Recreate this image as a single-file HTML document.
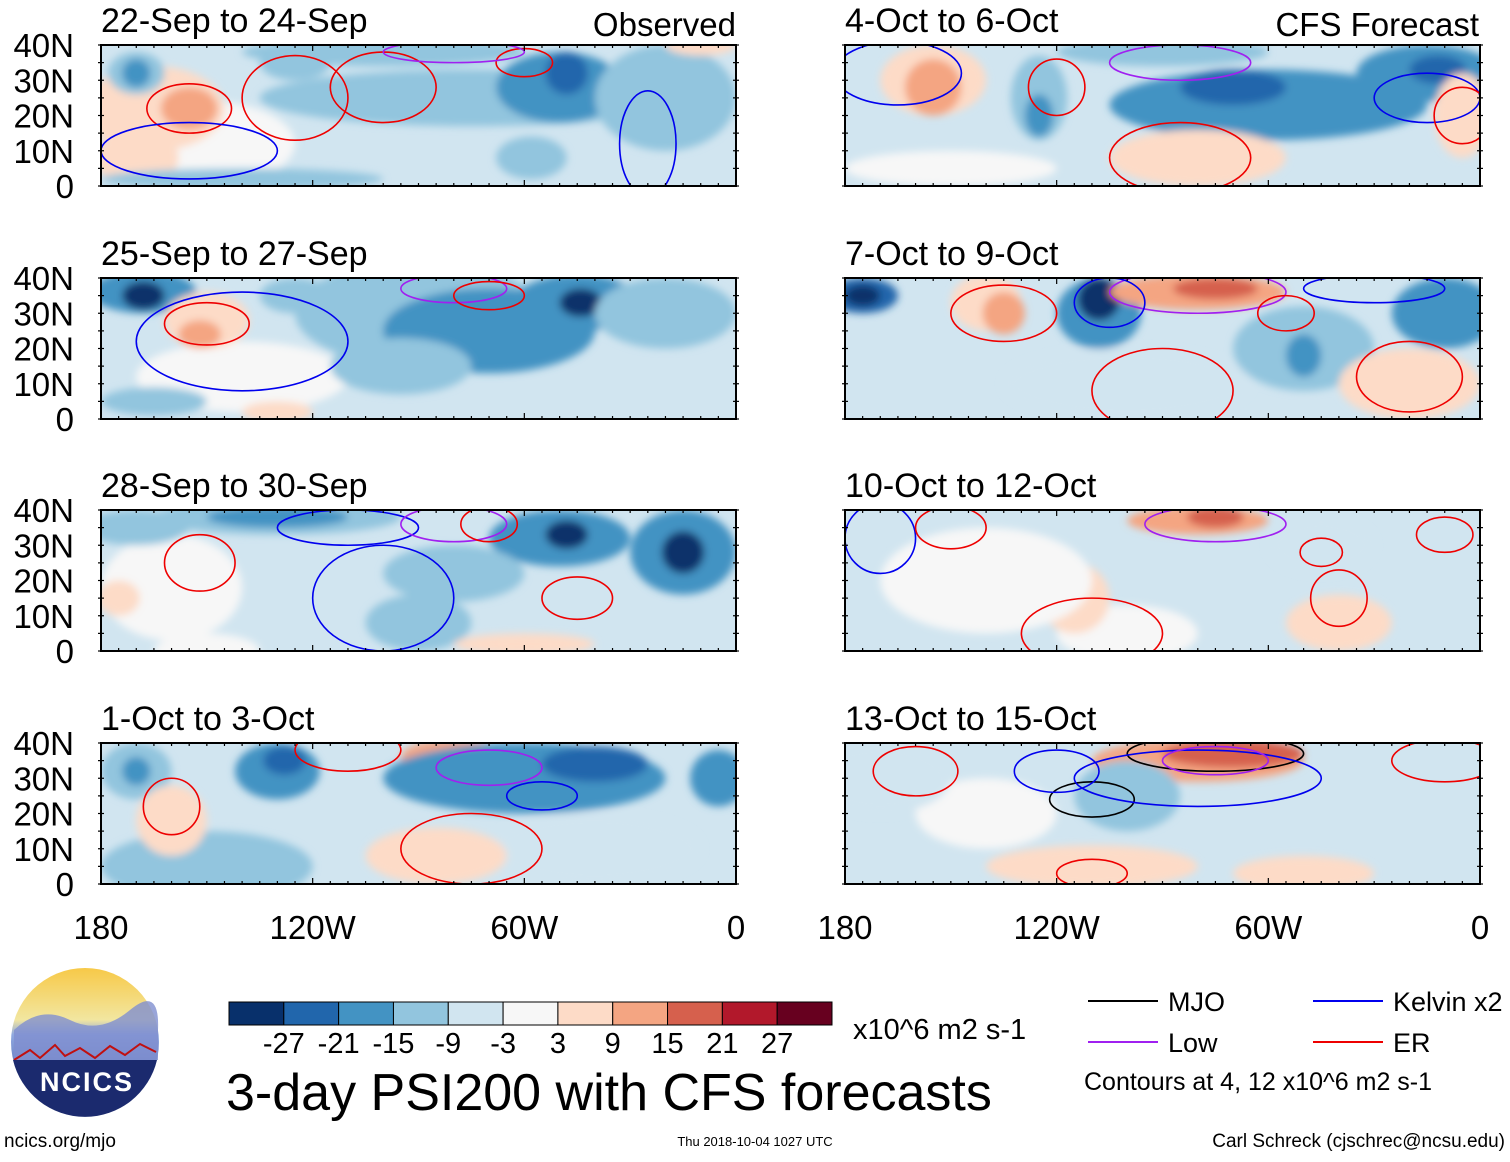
<!DOCTYPE html>
<html><head><meta charset="utf-8">
<style>
body{margin:0;background:#fff;width:1510px;height:1157px;overflow:hidden;font-family:"Liberation Sans",sans-serif}
svg text{font-family:"Liberation Sans",sans-serif}
</style></head>
<body>
<svg id="c" width="1510" height="1157" xmlns="http://www.w3.org/2000/svg">
<defs>
<filter id="bl" x="-20%" y="-20%" width="140%" height="140%"><feGaussianBlur stdDeviation="4"/></filter>
<linearGradient id="sky" x1="0" y1="0" x2="0" y2="1"><stop offset="0" stop-color="#f7c948"/><stop offset="0.35" stop-color="#f2e6a0"/><stop offset="0.45" stop-color="#8fa8e0"/><stop offset="1" stop-color="#2a3a8f"/></linearGradient>
</defs>
</svg>
<script>
const levelColors=["#08306b","#2166ac","#4393c3","#92c5de","#d1e5f0","#f7f7f7","#fddbc7","#f4a582","#d6604d","#b2182b","#67001f"];
const cbLabels=["-27","-21","-15","-9","-3","3","9","15","21","27"];
const panelTitles=["22-Sep to 24-Sep","25-Sep to 27-Sep","28-Sep to 30-Sep","1-Oct to 3-Oct","4-Oct to 6-Oct","7-Oct to 9-Oct","10-Oct to 12-Oct","13-Oct to 15-Oct"];
const latTicks=[40,30,20,10,0];
const latLabels=["40N","30N","20N","10N","0"];
const lonTicks=[180,120,60,0];
const lonLabels=["180","120W","60W","0"];
// blobs: [lonW, lat, rxDeg, ryDeg, level(-5..5)]
const blobs0=[[150,12,25,12,0],[165,22,20,12,1],[155,22,8,6,2],[170,8,12,8,1],[170,32,8,6,-2],[170,32,4,4,-3],[125,35,10,5,-2],[75,25,60,8,-2],[50,28,18,10,-3],[48,32,6,6,-4],[100,38,40,4,-2],[20,25,20,15,-2],[58,8,10,6,-2],[140,2,40,3,-2],[10,40,10,3,1]];
const blobs1=[[140,12,30,10,0],[168,36,15,6,-3],[168,35,6,4,-5],[150,28,12,8,1],[152,24,6,4,2],[90,30,35,15,-2],[70,25,30,12,-3],[45,33,18,8,-3],[44,33,6,4,-5],[20,30,20,10,-2],[95,15,20,8,-2],[125,35,10,5,-2],[165,5,15,4,-2],[130,2,10,3,1]];
const blobs2=[[160,18,20,15,0],[150,0,15,5,0],[130,38,35,5,-2],[130,38,20,3,-3],[170,35,15,5,-2],[50,32,20,8,-3],[48,33,6,4,-5],[15,28,15,12,-3],[15,28,6,6,-5],[80,22,20,8,-2],[90,8,15,8,-2],[175,15,6,5,1],[60,2,20,3,1]];
const blobs3=[[150,5,30,10,-2],[40,10,30,10,-1],[170,32,10,8,-2],[170,32,4,4,-3],[130,32,12,8,-3],[128,35,6,4,-4],[160,18,10,10,1],[80,36,15,5,2],[60,30,40,10,-3],[40,34,15,5,-4],[5,30,8,8,-3],[85,8,20,8,1]];
const blobs4=[[150,5,30,5,0],[155,30,15,10,1],[155,28,8,8,2],[125,25,8,12,-2],[125,20,4,6,-3],[60,23,45,10,-3],[70,28,15,5,-4],[15,32,20,8,-3],[12,33,8,4,-4],[80,8,25,8,1],[5,20,8,12,1],[90,38,30,4,-2]];
const blobs5=[[100,10,35,10,-1],[175,35,10,5,-4],[175,35,5,3,-5],[140,33,10,8,1],[135,30,6,6,2],[108,30,12,10,-3],[108,34,6,6,-5],[80,36,25,5,2],[75,37,12,3,3],[50,20,20,12,-2],[50,18,5,6,-3],[10,30,15,10,-3],[20,10,20,10,1]];
const blobs6=[[100,5,20,8,0],[80,37,20,4,2],[75,38,8,3,3],[115,15,10,10,1],[45,30,15,8,-1],[40,8,15,8,1],[140,20,30,15,0]];
const blobs7=[[140,20,20,10,0],[80,35,30,6,2],[70,37,20,4,3],[170,30,20,10,-1],[110,5,30,6,1],[50,3,20,5,1],[100,25,15,10,-2]];
const allBlobs=[blobs0,blobs1,blobs2,blobs3,blobs4,blobs5,blobs6,blobs7];
const panelBase=[-1,-1,-1,-1,-1,-1,-1,-1];
// contours: [lonW, lat, rxDeg, ryDeg, type]
const cont0=[[155,22,12,7,"r"],[155,10,25,8,"b"],[125,25,15,12,"r"],[100,28,15,10,"r"],[60,35,8,4,"r"],[25,12,8,15,"b"],[80,38,20,3,"p"]];
const cont1=[[150,27,12,6,"r"],[140,22,30,14,"b"],[80,37,15,4,"p"],[70,35,10,4,"r"]];
const cont2=[[152,25,10,8,"r"],[100,15,20,15,"b"],[110,35,20,5,"b"],[80,36,15,5,"p"],[45,15,10,6,"r"],[70,36,8,5,"r"]];
const cont3=[[160,22,8,8,"r"],[70,33,15,5,"p"],[55,25,10,4,"b"],[75,10,20,10,"r"],[110,38,15,6,"r"]];
const cont4=[[165,32,18,9,"b"],[120,28,8,8,"r"],[85,35,20,5,"p"],[15,25,15,7,"b"],[85,8,20,10,"r"],[5,20,8,8,"r"]];
const cont5=[[135,30,15,8,"r"],[80,36,25,6,"p"],[105,33,10,7,"b"],[55,30,8,5,"r"],[90,8,20,12,"r"],[20,12,15,10,"r"],[30,37,20,4,"b"]];
const cont6=[[170,32,10,10,"b"],[150,35,10,6,"r"],[75,36,20,5,"p"],[45,28,6,4,"r"],[40,15,8,8,"r"],[110,5,20,10,"r"],[10,33,8,5,"r"]];
const cont7=[[75,37,25,5,"k"],[110,24,12,5,"k"],[80,30,35,8,"b"],[160,32,12,7,"r"],[75,35,15,4,"p"],[120,32,12,6,"b"],[110,3,10,4,"r"],[10,35,15,6,"r"]];
const allCont=[cont0,cont1,cont2,cont3,cont4,cont5,cont6,cont7];
const contColors={r:"#ee0000",b:"#0000ee",p:"#a020f0",k:"#000000"};

const NS="http://www.w3.org/2000/svg";
const svg=document.getElementById("c");
function mk(tag,attrs,parent){const e=document.createElementNS(NS,tag);for(const k in attrs)e.setAttribute(k,attrs[k]);(parent||svg).appendChild(e);return e;}
function txt(x,y,s,size,anchor,parent){const t=mk("text",{x:x,y:y,"font-size":size,"text-anchor":anchor||"start",fill:"#000"},parent);t.textContent=s;return t;}

const colX=[101,845],W=635,rowY=[45,278,510,743],H=141;
for(let p=0;p<8;p++){
  const col=p<4?0:1,row=p%4;
  const x0=colX[col],y0=rowY[row];
  const xs=lon=>x0+(180-lon)/180*W;
  const ys=lat=>y0+(40-lat)/40*H;
  const g=mk("g",{});
  
  
  const cp=mk("clipPath",{id:"cp"+p},g);
  mk("rect",{x:x0,y:y0,width:W,height:H},cp);
  const inner=mk("g",{"clip-path":"url(#cp"+p+")"},g);
  mk("rect",{x:x0,y:y0,width:W,height:H,fill:levelColors[panelBase[p]+5]},inner);
  const fg=mk("g",{filter:"url(#bl)"},inner);
  allBlobs[p].forEach(b=>{
    const e=mk("ellipse",{cx:xs(b[0]),cy:ys(b[1]),rx:b[2]/180*W,ry:b[3]/40*H,fill:levelColors[b[4]+5]},fg);
    
    
  });
  allCont[p].forEach(c=>{
    const e=mk("ellipse",{cx:xs(c[0]),cy:ys(c[1]),rx:c[2]/180*W,ry:c[3]/40*H,fill:"none",stroke:contColors[c[4]],"stroke-width":1.6},inner);
    
    
  });
  mk("rect",{x:x0,y:y0,width:W,height:H,fill:"none",stroke:"#000","stroke-width":2},g);
  for(let l=180;l>=0;l-=5){const xx=xs(l);const len=l%60==0?6:3;
    mk("line",{x1:xx,y1:y0,x2:xx,y2:y0+len,stroke:"#000","stroke-width":1.2},g);
    mk("line",{x1:xx,y1:y0+H,x2:xx,y2:y0+H-len,stroke:"#000","stroke-width":1.2},g);}
  for(let l=0;l<=40;l+=5){const yy=ys(l);
    mk("line",{x1:x0-3,y1:yy,x2:x0+3,y2:yy,stroke:"#000","stroke-width":1.2},g);
    mk("line",{x1:x0+W-3,y1:yy,x2:x0+W+3,y2:yy,stroke:"#000","stroke-width":1.2},g);}
  const t=txt(x0,y0-13,panelTitles[p],34,"start");
  
  
  if(col==0){latTicks.forEach((l,i)=>{const tl=txt(74,ys(l)+12,latLabels[i],33,"end");
    
    });}
  if(row==3){lonTicks.forEach((l,i)=>{const tl=txt(xs(l),939,lonLabels[i],33,"middle");
    
    });}
}
let t=txt(736,36,"Observed",33,"end");
t=txt(1479,36,"CFS Forecast",33,"end");

// colorbar
const cbx=229,cbw=603,cby=1002,cbh=23,bw=cbw/11;
const cb=mk("g",{});


levelColors.forEach((c,i)=>mk("rect",{x:cbx+i*bw,y:cby,width:bw,height:cbh,fill:c,stroke:"#000","stroke-width":1},cb));
cbLabels.forEach((s,i)=>txt(cbx+(i+1)*bw,1053,s,29,"middle",cb));
t=txt(853,1039,"x10^6 m2 s-1",29,"start");
t=txt(226,1110,"3-day PSI200 with CFS forecasts",52,"start");

// legend
const leg=[[1088,1001,"#000","MJO"],[1313,1001,"#0000ee","Kelvin x2"],[1088,1042,"#a020f0","Low"],[1313,1042,"#ee0000","ER"]];
leg.forEach(l=>{const g=mk("g",{});
  
  
  mk("line",{x1:l[0],y1:l[1],x2:l[0]+70,y2:l[1],stroke:l[2],"stroke-width":2},g);
  txt(l[0]+80,l[1]+10,l[3],27,"start",g);});
t=txt(1084,1090,"Contours at 4, 12 x10^6 m2 s-1",25,"start");
t=txt(4,1147,"ncics.org/mjo",19,"start");
t=txt(755,1146,"Thu 2018-10-04 1027 UTC",13,"middle");
t=txt(1505,1147,"Carl Schreck (cjschrec@ncsu.edu)",19,"end");

// logo
const lg=mk("g",{});


mk("circle",{cx:85,cy:1042,r:74,fill:"url(#sky)"},lg);
mk("path",{d:"M14,1030 Q40,1005 70,1020 T130,1010 T158,1030 L158,1060 L14,1060Z",fill:"#7f8fd0",opacity:0.8},lg);
mk("path",{d:"M14,1060 L30,1050 L40,1058 L55,1045 L65,1056 L80,1048 L95,1058 L110,1046 L125,1055 L140,1044 L156,1052",fill:"none",stroke:"#c01010","stroke-width":2},lg);
mk("path",{d:"M13,1060 L157,1060 A74,74 0 0 1 13,1060Z",fill:"#1b2a6e"},lg);
const lt=txt(87,1091,"NCICS",27,"middle",lg);lt.setAttribute("fill","#fff");lt.setAttribute("font-weight","bold");lt.setAttribute("letter-spacing","2");
</script>
</body></html>
